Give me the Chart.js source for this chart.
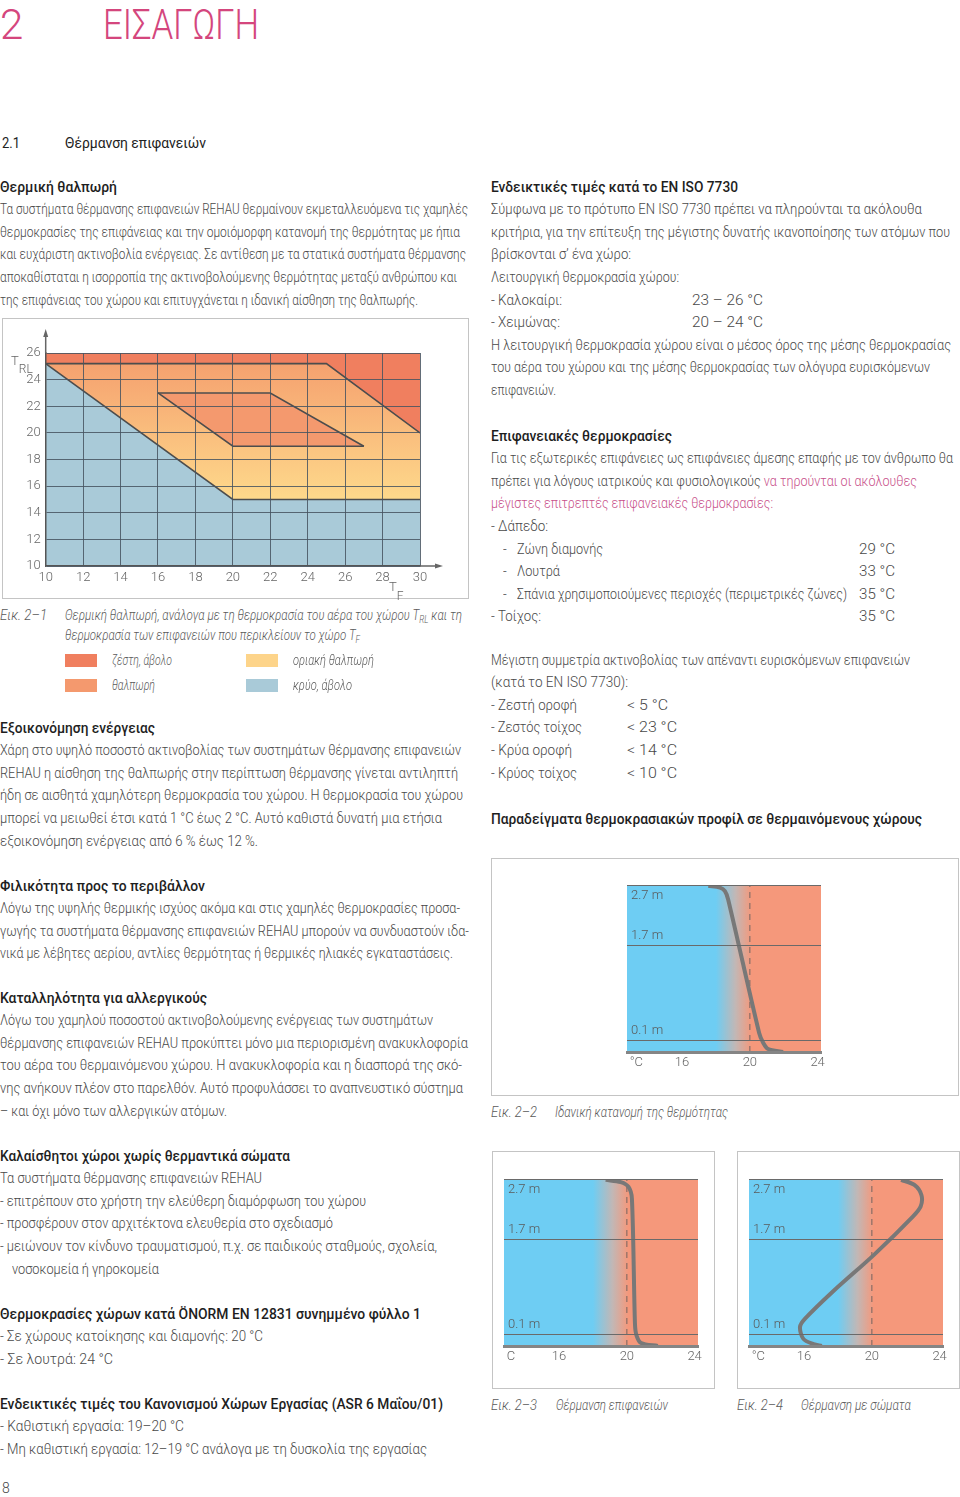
<!DOCTYPE html>
<html lang="el">
<head>
<meta charset="utf-8">
<title>2 Εισαγωγή – Θέρμανση επιφανειών</title>
<script src="https://cdn.jsdelivr.net/npm/chart.js@4.4.1/dist/chart.umd.min.js"></script>
<style>
  :root { --f: Roboto, "Noto Sans", "DejaVu Sans Condensed", sans-serif; }
  html, body { margin: 0; padding: 0; background: #fff; }
  body { width: 960px; height: 1497px; position: relative; overflow: hidden; font-family: var(--f); font-weight: 300; color: #484848; }
  .abs { position: absolute; white-space: nowrap; }
  .blk { position: absolute; white-space: nowrap; font-size: 14.5px; line-height: 22.6px; }
  .blk > div { position: relative; height: 22.6px; }
  .h { color: #1e1e1e; font-weight: 500; }
  .t { position: absolute; top: 0; }
  .cap { font-style: italic; color: #5a5a5a; }
  .pink { color: #c8508a; }
  .fx { display: inline-block; transform-origin: 0 50%; }
  .frame { position: absolute; border: 1px solid #c4c4c4; box-sizing: border-box; }
  canvas { position: absolute; }
  .sw { position: absolute; width: 32px; height: 13px; }
  sub { font-size: 70%; vertical-align: -3px; line-height: 0; }
</style>
</head>
<body>

<div class="abs" style="left:0;top:0;font-size:42px;color:#d4467d">2</div>
<div class="abs fx" data-w="156" style="left:103px;top:0;font-size:42px;color:#d4467d">ΕΙΣΑΓΩΓΗ</div>

<div class="blk" style="left:2px;top:131.7px;font-size:15px;color:#222;font-weight:400">
  <div data-w="18">2.1<span class="t" data-w="141" style="left:63px">Θέρμανση επιφανειών</span></div>
</div>

<!-- αριστερή στήλη -->
<div class="blk" style="left:0;top:176.7px">
  <div class="h" data-w="117">Θερμική θαλπωρή</div>
  <div data-w="468">Τα συστήματα θέρμανσης επιφανειών REHAU θερμαίνουν εκμεταλλευόμενα τις χαμηλές</div>
  <div data-w="460">θερμοκρασίες της επιφάνειας και την ομοιόμορφη κατανομή της θερμότητας με ήπια</div>
  <div data-w="466">και ευχάριστη ακτινοβολία ενέργειας. Σε αντίθεση με τα στατικά συστήματα θέρμανσης</div>
  <div data-w="457">αποκαθίσταται η ισορροπία της ακτινοβολούμενης θερμότητας μεταξύ ανθρώπου και</div>
  <div data-w="418">της επιφάνειας του χώρου και επιτυγχάνεται η ιδανική αίσθηση της θαλπωρής.</div>
</div>

<div class="frame" style="left:2px;top:318px;width:467px;height:281px"></div>
<canvas id="comfortChart" width="464" height="277" style="left:3px;top:319px"></canvas>
<div class="abs" style="left:11px;top:353px;font-size:13px;line-height:16px;color:#666">T<span style="font-size:12px;position:relative;top:8px">RL</span></div>
<div class="abs" style="left:389px;top:579px;font-size:13px;line-height:16px;color:#666">T<span style="font-size:12px;position:relative;top:9px">F</span></div>

<div class="blk cap" style="left:0;top:605.5px;line-height:20.5px">
  <div style="height:20.5px" data-w="47">Εικ. 2–1<span class="t" data-w="397" style="left:65px">Θερμική θαλπωρή, ανάλογα με τη θερμοκρασία του αέρα του χώρου T<sub>RL</sub> και τη</span></div>
  <div style="height:20.5px"><span class="t" data-w="295" style="left:65px">θερμοκρασία των επιφανειών που περικλείουν το χώρο T<sub>F</sub></span></div>
</div>
<div id="legend"></div>

<div class="blk" style="left:0;top:717.7px">
  <div class="h" data-w="155">Εξοικονόμηση ενέργειας</div>
  <div data-w="461">Χάρη στο υψηλό ποσοστό ακτινοβολίας των συστημάτων θέρμανσης επιφανειών</div>
  <div data-w="458">REHAU η αίσθηση της θαλπωρής στην περίπτωση θέρμανσης γίνεται αντιληπτή</div>
  <div data-w="463">ήδη σε αισθητά χαμηλότερη θερμοκρασία του χώρου. Η θερμοκρασία του χώρου</div>
  <div data-w="442">μπορεί να μειωθεί έτσι κατά 1 °C έως 2 °C. Αυτό καθιστά δυνατή μια ετήσια</div>
  <div data-w="258">εξοικονόμηση ενέργειας από 6 % έως 12 %.</div>
</div>

<div class="blk" style="left:0;top:875.7px">
  <div class="h" data-w="205">Φιλικότητα προς το περιβάλλον</div>
  <div data-w="460">Λόγω της υψηλής θερμικής ισχύος ακόμα και στις χαμηλές θερμοκρασίες προσα-</div>
  <div data-w="469">γωγής τα συστήματα θέρμανσης επιφανειών REHAU μπορούν να συνδυαστούν ιδα-</div>
  <div data-w="453">νικά με λέβητες αερίου, αντλίες θερμότητας ή θερμικές ηλιακές εγκαταστάσεις.</div>
</div>

<div class="blk" style="left:0;top:987.7px">
  <div class="h" data-w="207">Καταλληλότητα για αλλεργικούς</div>
  <div data-w="433">Λόγω του χαμηλού ποσοστού ακτινοβολούμενης ενέργειας των συστημάτων</div>
  <div data-w="468">θέρμανσης επιφανειών REHAU προκύπτει μόνο μια περιορισμένη ανακυκλοφορία</div>
  <div data-w="462">του αέρα του θερμαινόμενου χώρου. Η ανακυκλοφορία και η διασπορά της σκό-</div>
  <div data-w="463">νης ανήκουν πλέον στο παρελθόν. Αυτό προφυλάσσει το αναπνευστικό σύστημα</div>
  <div data-w="227">– και όχι μόνο των αλλεργικών ατόμων.</div>
</div>

<div class="blk" style="left:0;top:1145.7px">
  <div class="h" data-w="290">Καλαίσθητοι χώροι χωρίς θερμαντικά σώματα</div>
  <div data-w="262">Τα συστήματα θέρμανσης επιφανειών REHAU</div>
  <div data-w="366">- επιτρέπουν στο χρήστη την ελεύθερη διαμόρφωση του χώρου</div>
  <div data-w="333">- προσφέρουν στον αρχιτέκτονα ελευθερία στο σχεδιασμό</div>
  <div data-w="437">- μειώνουν τον κίνδυνο τραυματισμού, π.χ. σε παιδικούς σταθμούς, σχολεία,</div>
  <div><span class="t" data-w="147" style="left:12px">νοσοκομεία ή γηροκομεία</span></div>
</div>

<div class="blk" style="left:0;top:1303.7px">
  <div class="h" data-w="421">Θερμοκρασίες χώρων κατά ÖNORM EN 12831 συνημμένο φύλλο 1</div>
  <div data-w="263">- Σε χώρους κατοίκησης και διαμονής: 20 °C</div>
  <div data-w="113">- Σε λουτρά: 24 °C</div>
</div>

<div class="blk" style="left:0;top:1393.7px">
  <div class="h" data-w="443">Ενδεικτικές τιμές του Κανονισμού Χώρων Εργασίας (ASR 6 Μαΐου/01)</div>
  <div data-w="184">- Καθιστική εργασία: 19–20 °C</div>
  <div data-w="427">- Μη καθιστική εργασία: 12–19 °C ανάλογα με τη δυσκολία της εργασίας</div>
</div>

<div class="abs" style="left:2px;top:1477px;font-size:14px;line-height:22px">8</div>

<!-- δεξιά στήλη -->
<div class="blk" style="left:491px;top:176.7px">
  <div class="h" data-w="247">Ενδεικτικές τιμές κατά το EN ISO 7730</div>
  <div data-w="431">Σύμφωνα με το πρότυπο EN ISO 7730 πρέπει να πληρούνται τα ακόλουθα</div>
  <div data-w="459">κριτήρια, για την επίτευξη της μέγιστης δυνατής ικανοποίησης των ατόμων που</div>
  <div data-w="140">βρίσκονται σ’ ένα χώρο:</div>
  <div data-w="188">Λειτουργική θερμοκρασία χώρου:</div>
  <div data-w="71">- Καλοκαίρι:<span class="t" data-w="71" style="left:201px">23 – 26 °C</span></div>
  <div data-w="69">- Χειμώνας:<span class="t" data-w="71" style="left:201px">20 – 24 °C</span></div>
  <div data-w="460">Η λειτουργική θερμοκρασία χώρου είναι ο μέσος όρος της μέσης θερμοκρασίας</div>
  <div data-w="439">του αέρα του χώρου και της μέσης θερμοκρασίας των ολόγυρα ευρισκόμενων</div>
  <div data-w="65">επιφανειών.</div>
</div>

<div class="blk" style="left:491px;top:425.7px">
  <div class="h" data-w="181">Επιφανειακές θερμοκρασίες</div>
  <div data-w="462">Για τις εξωτερικές επιφάνειες ως επιφάνειες άμεσης επαφής με τον άνθρωπο θα</div>
  <div data-w="426">πρέπει για λόγους ιατρικούς και φυσιολογικούς <span class="pink">να τηρούνται οι ακόλουθες</span></div>
  <div class="pink" data-w="282">μέγιστες επιτρεπτές επιφανειακές θερμοκρασίες:</div>
  <div data-w="57">- Δάπεδο:</div>
  <div><span class="t" style="left:12px">-</span><span class="t" data-w="86" style="left:26px">Ζώνη διαμονής</span><span class="t" data-w="36" style="left:368px">29 °C</span></div>
  <div><span class="t" style="left:12px">-</span><span class="t" data-w="43" style="left:26px">Λουτρά</span><span class="t" data-w="36" style="left:368px">33 °C</span></div>
  <div><span class="t" style="left:12px">-</span><span class="t" data-w="330" style="left:26px">Σπάνια χρησιμοποιούμενες περιοχές (περιμετρικές ζώνες)</span><span class="t" data-w="36" style="left:368px">35 °C</span></div>
  <div data-w="50">- Τοίχος:<span class="t" data-w="36" style="left:368px">35 °C</span></div>
</div>

<div class="blk" style="left:491px;top:649.7px">
  <div data-w="419">Μέγιστη συμμετρία ακτινοβολίας των απέναντι ευρισκόμενων επιφανειών</div>
  <div data-w="137">(κατά το EN ISO 7730):</div>
  <div data-w="86">- Ζεστή οροφή<span class="t" data-w="41" style="left:136px">&lt; 5 °C</span></div>
  <div data-w="91">- Ζεστός τοίχος<span class="t" data-w="50" style="left:136px">&lt; 23 °C</span></div>
  <div data-w="81">- Κρύα οροφή<span class="t" data-w="50" style="left:136px">&lt; 14 °C</span></div>
  <div data-w="86">- Κρύος τοίχος<span class="t" data-w="50" style="left:136px">&lt; 10 °C</span></div>
</div>

<div class="blk" style="left:491px;top:807.7px;font-size:15.5px">
  <div class="h" data-w="431">Παραδείγματα θερμοκρασιακών προφίλ σε θερμαινόμενους χώρους</div>
</div>

<div class="frame" style="left:491px;top:858px;width:468px;height:238px"></div>
<canvas id="idealChart" width="214" height="208" style="left:617px;top:874px"></canvas>
<div class="blk cap" style="left:491px;top:1102px">
  <div data-w="46">Εικ. 2–2<span class="t" data-w="173" style="left:64px">Ιδανική κατανομή της θερμότητας</span></div>
</div>

<div class="frame" style="left:492px;top:1151px;width:223px;height:238px"></div>
<canvas id="floorChart" width="214" height="208" style="left:494px;top:1168px"></canvas>
<div class="blk cap" style="left:491px;top:1395px">
  <div data-w="46">Εικ. 2–3<span class="t" data-w="112" style="left:65px">Θέρμανση επιφανειών</span></div>
</div>

<div class="frame" style="left:737px;top:1151px;width:223px;height:238px"></div>
<canvas id="radiatorChart" width="214" height="208" style="left:739px;top:1168px"></canvas>
<div class="blk cap" style="left:737px;top:1395px">
  <div data-w="46">Εικ. 2–4<span class="t" data-w="110" style="left:64px">Θέρμανση με σώματα</span></div>
</div>

<script>
// Εικ. 2-1: θερμική θαλπωρή, T_F (x) - T_RL (y)
const regionNames = ['ζέστη, άβολο', 'θαλπωρή', 'οριακή θαλπωρή', 'κρύο, άβολο'];
const regionColors = ['#f07f5f', '#f4996e', '#fdd48a', '#a9cad8'];
const marginalShades = ['#f5a16f', '#fed98b'];
const surfaceRange = [10, 30];   // T_F
const airRange = [10, 26];       // T_RL
const hotBoundary = [[10, 25.2], [25, 25.2], [30, 20]];
const coldBoundary = [[10, 25.2], [20, 15], [30, 15]];
const comfortUpper = [[16, 23], [22, 23], [27, 19]];
const comfortLower = [[16, 23], [20, 19], [27, 19]];

// Εικ. 2-2 … 2-4: κατακόρυφα προφίλ θερμοκρασίας (°C, ύψος σε m)
const tempTicks = [16, 20, 24];
const heightTicks = [0.1, 1.7];
const ceilingHeight = 2.7;
const designTemp = 20;
const idealProfile = [[17.55, 2.70], [18.24, 2.67], [18.53, 2.61], [18.72, 2.47], [20.55, 0.22], [20.78, 0.06], [21.08, -0.05], [21.96, -0.1]];
const floorHeatingProfile = [[18.75, 2.70], [19.64, 2.66], [20.10, 2.58], [20.30, 2.38], [20.48, 0.27], [20.57, 0.08], [20.84, -0.05], [21.83, -0.1]];
const radiatorProfile = [[21.73, 2.70], [22.53, 2.61], [22.93, 2.44], [22.88, 2.25], [22.42, 2.08], [20.14, 1.44], [17.75, 0.83], [16.06, 0.36], [15.76, 0.22], [15.96, 0.02], [16.56, -0.07], [17.05, -0.1]];

const FONT = 'Roboto, "Noto Sans", sans-serif';
const pts = arr => arr.map(([x, y]) => ({ x, y }));

// υπόμνημα κάτω από το διάγραμμα
const legendPos = [[65, 654], [65, 679], [246, 654], [246, 679]];
const legendWidths = [60, 43, 81, 59];
document.getElementById('legend').innerHTML = regionNames.map((name, i) => {
  const [l, t] = legendPos[i];
  return `<div class="sw" style="left:${l}px;top:${t}px;background:${regionColors[i]}"></div>` +
    `<div class="abs cap fx" data-w="${legendWidths[i]}" style="left:${l + 47}px;top:${t - 4}px;font-size:14.5px;line-height:21px">${name}</div>`;
}).join('');

// στένεμα κειμένου ώστε να ταιριάζει με τη στενή γραμματοσειρά του πρωτοτύπου
document.querySelectorAll('.blk > div').forEach(line => {
  const run = document.createElement('span');
  run.className = 'fx';
  if (line.dataset.w) run.dataset.w = line.dataset.w;
  [...line.childNodes].forEach(n => {
    if (!(n.classList && n.classList.contains('t'))) run.appendChild(n);
  });
  line.insertBefore(run, line.firstChild);
  line.querySelectorAll('.t').forEach(t => t.classList.add('fx'));
});
const runs = [...document.querySelectorAll('.fx')].map(el => ({ el, natural: el.getBoundingClientRect().width }));
const ratios = runs.filter(r => r.el.dataset.w && r.natural > 0).map(r => r.el.dataset.w / r.natural).sort((a, b) => a - b);
const kDefault = ratios[Math.floor(ratios.length / 2)] || 0.85;
runs.forEach(({ el, natural }) => {
  const k = el.dataset.w && natural > 0 ? el.dataset.w / natural : kDefault;
  el.style.transform = `scaleX(${k})`;
});

const edge = '#4d4d4d';

// βέλη στους άξονες
const axisArrows = {
  id: 'axisArrows',
  afterDraw(chart) {
    const { ctx, chartArea: a } = chart;
    ctx.save();
    ctx.strokeStyle = '#666';
    ctx.fillStyle = '#666';
    ctx.lineWidth = 1.5;
    ctx.beginPath();
    ctx.moveTo(a.left, a.top);
    ctx.lineTo(a.left, a.top - 18);
    ctx.moveTo(a.right, a.bottom);
    ctx.lineTo(a.right + 17, a.bottom);
    ctx.stroke();
    ctx.beginPath();
    ctx.moveTo(a.left, a.top - 24);
    ctx.lineTo(a.left - 2.5, a.top - 16);
    ctx.lineTo(a.left + 2.5, a.top - 16);
    ctx.closePath();
    ctx.moveTo(a.right + 23, a.bottom);
    ctx.lineTo(a.right + 15, a.bottom - 2.5);
    ctx.lineTo(a.right + 15, a.bottom + 2.5);
    ctx.closePath();
    ctx.fill();
    ctx.restore();
  }
};

const tickFont = { family: FONT, size: 13, weight: '300' };

new Chart(document.getElementById('comfortChart'), {
  type: 'line',
  data: {
    datasets: [
      {
        label: regionNames[2],
        data: pts([[surfaceRange[0], airRange[1]], [surfaceRange[1], airRange[1]]]),
        fill: 'start',
        borderWidth: 0,
        order: 5,
        backgroundColor: c => {
          const ch = c.chart;
          if (!ch.chartArea) return regionColors[2];
          const y = ch.scales.y;
          const g = ch.ctx.createLinearGradient(0, y.getPixelForValue(25.2), 0, y.getPixelForValue(15));
          g.addColorStop(0, marginalShades[0]);
          g.addColorStop(1, marginalShades[1]);
          return g;
        }
      },
      { label: regionNames[0], data: pts(hotBoundary), fill: 'end', backgroundColor: regionColors[0], borderColor: edge, borderWidth: 1.6, order: 4 },
      { label: regionNames[3], data: pts(coldBoundary), fill: 'start', backgroundColor: regionColors[3], borderColor: edge, borderWidth: 1.6, order: 3 },
      { label: regionNames[1], data: pts(comfortUpper), fill: '+1', backgroundColor: regionColors[1], borderColor: edge, borderWidth: 1.6, order: 2 },
      { label: regionNames[1], data: pts(comfortLower), fill: false, borderColor: edge, borderWidth: 1.6, order: 1 }
    ]
  },
  options: {
    responsive: false,
    animation: false,
    events: [],
    layout: { padding: { top: 34, right: 47 } },
    elements: { point: { radius: 0 }, line: { tension: 0 } },
    plugins: { legend: { display: false }, tooltip: { enabled: false } },
    scales: {
      x: {
        type: 'linear', min: surfaceRange[0], max: surfaceRange[1],
        ticks: { stepSize: 2, color: '#666', font: tickFont, padding: 4, maxRotation: 0 },
        grid: { color: 'rgba(70,84,96,0.85)', lineWidth: 1, drawTicks: false, z: 1 },
        border: { color: '#555', width: 1.5, z: 1 },
        afterFit: s => { s.height = 30; }
      },
      y: {
        type: 'linear', min: airRange[0], max: airRange[1],
        ticks: { stepSize: 2, color: '#666', font: tickFont, padding: 5 },
        grid: { color: 'rgba(70,84,96,0.85)', lineWidth: 1, drawTicks: false, z: 1 },
        border: { color: '#555', width: 1.5, z: 1 },
        afterFit: s => { s.width = 42.7; }
      }
    }
  },
  plugins: [axisArrows]
});

// προφίλ θερμοκρασίας
const tempMin = 12.75, tempMax = 24.2, heightMin = -0.1;
const profileShades = ['#6ecdf3', '#c2b7b5', '#f5987b'];

function profileChart(id, profile, unit) {
  const yCommon = { type: 'linear', min: heightMin, max: ceilingHeight, position: 'left' };
  return new Chart(document.getElementById(id), {
    type: 'line',
    data: {
      datasets: [
        {
          data: pts([[tempMin, ceilingHeight], [tempMax, ceilingHeight]]),
          fill: 'start', borderWidth: 0, order: 3,
          backgroundColor: c => {
            const ch = c.chart;
            if (!ch.chartArea) return profileShades[0];
            const x = ch.scales.x;
            const g = ch.ctx.createLinearGradient(x.getPixelForValue(18), 0, x.getPixelForValue(20.1), 0);
            g.addColorStop(0, profileShades[0]);
            g.addColorStop(0.55, profileShades[1]);
            g.addColorStop(1, profileShades[2]);
            return g;
          }
        },
        {
          data: pts([[designTemp, heightMin], [designTemp, ceilingHeight]]),
          fill: false, borderColor: '#8a6c64', borderWidth: 1.2, borderDash: [6, 5], order: 2
        },
        {
          data: pts(profile),
          fill: false, borderColor: '#787878', borderWidth: 4, tension: 0.3, order: 1
        }
      ]
    },
    options: {
      responsive: false,
      animation: false,
      events: [],
      layout: { padding: { left: 10, top: 10, right: 10 } },
      elements: { point: { radius: 0 } },
      plugins: { legend: { display: false }, tooltip: { enabled: false } },
      scales: {
        x: {
          type: 'linear', min: tempMin, max: tempMax, position: 'bottom',
          grid: { display: false, drawTicks: false },
          border: { color: '#858585', width: 3, z: 1 },
          afterBuildTicks: s => { s.ticks = tempTicks.map(value => ({ value })); },
          ticks: { color: '#666', font: tickFont, padding: 3, maxRotation: 0 },
          title: { display: true, text: '\u2009' + unit, align: 'start', color: '#666', font: tickFont, padding: { top: 0, bottom: 11 } },
          afterFit: s => { s.height = 30; }
        },
        y: {
          ...yCommon,
          grid: { color: '#6a6a6a', lineWidth: 1, drawTicks: false, z: 1 },
          border: { display: false },
          afterBuildTicks: s => { s.ticks = heightTicks.map(value => ({ value })); },
          ticks: { mirror: true, padding: 4, labelOffset: -9, color: '#5a5a5a', font: tickFont, z: 1, callback: v => v + ' m' },
          afterFit: s => { s.width = 0; }
        },
        yTop: {
          ...yCommon,
          grid: { color: '#6a6a6a', lineWidth: 1, drawTicks: false, z: 1 },
          border: { display: false },
          afterBuildTicks: s => { s.ticks = [{ value: ceilingHeight }]; },
          ticks: { mirror: true, padding: 4, labelOffset: 10, color: '#5a5a5a', font: tickFont, z: 1, callback: v => v + ' m' },
          afterFit: s => { s.width = 0; }
        }
      }
    }
  });
}

profileChart('idealChart', idealProfile, '°C');
profileChart('floorChart', floorHeatingProfile, 'C');
profileChart('radiatorChart', radiatorProfile, '°C');
</script>
</body>
</html>
